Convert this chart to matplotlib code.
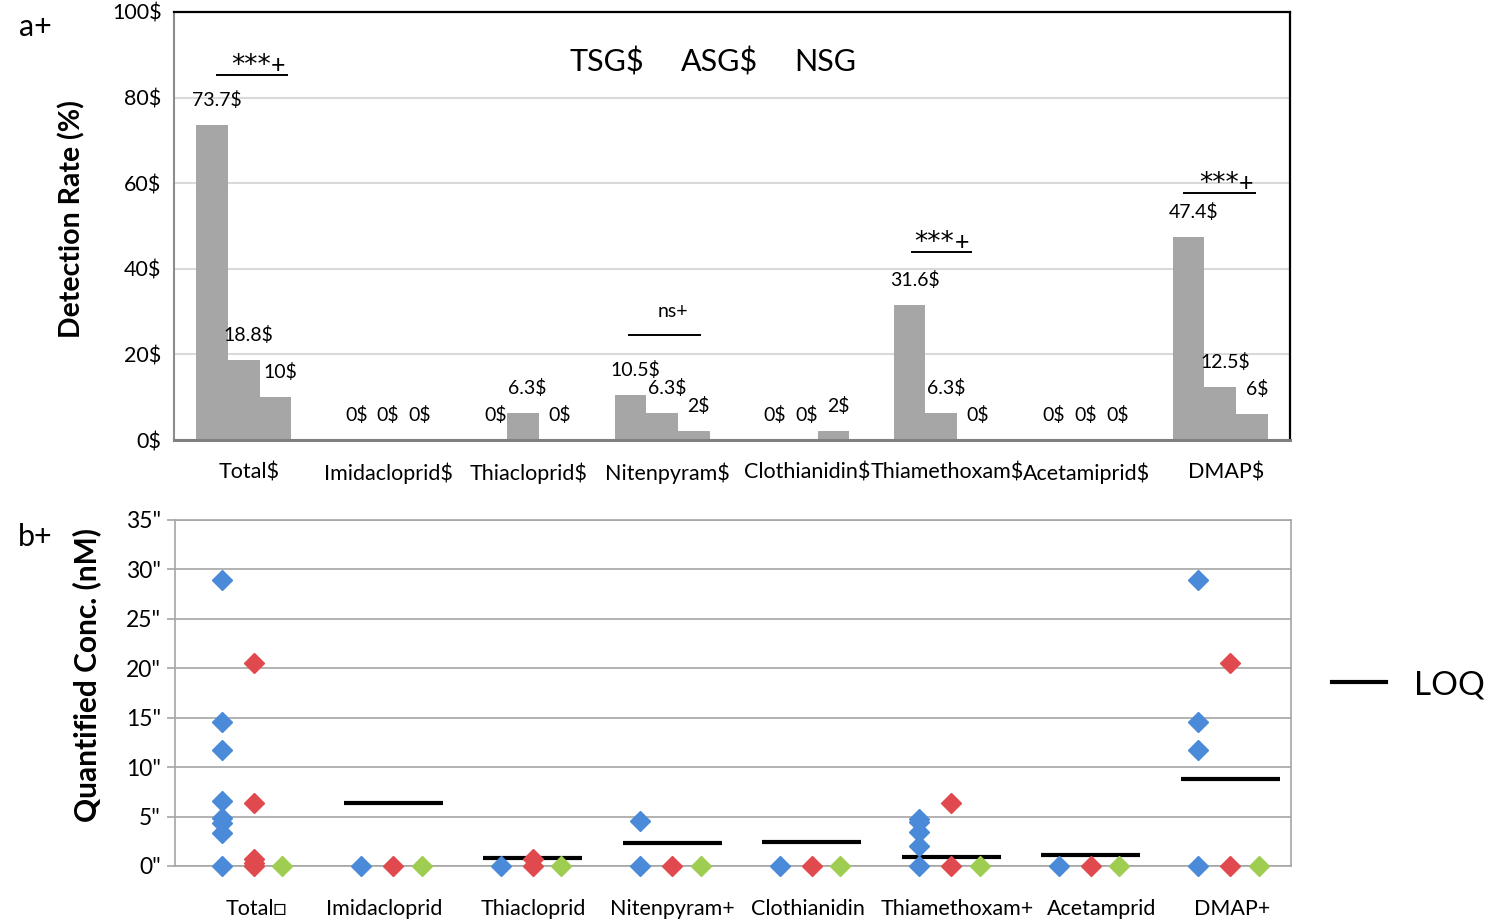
import numpy as np
import matplotlib
matplotlib.use("Agg")
import matplotlib.pyplot as plt
from matplotlib.lines import Line2D

plt.rcParams['font.family'] = ['Lato', 'DejaVu Sans']

# ---- panel a: detection rate (%) ----
cats_a = ['Total$', 'Imidacloprid$', 'Thiacloprid$', 'Nitenpyram$', 'Clothianidin$',
          'Thiamethoxam$', 'Acetamiprid$', 'DMAP$']
tsg_rate = [73.7, 0, 0, 10.5, 0, 31.6, 0, 47.4]
asg_rate = [18.8, 0, 6.3, 6.3, 0, 6.3, 0, 12.5]
nsg_rate = [10, 0, 0, 2, 2, 0, 0, 6]
groups = ['TSG$', 'ASG$', 'NSG']

# significance marks: category, label, bar height, line ends (offset from category)
sig_cat = [0, 3, 5, 7]
sig_text = ['***', 'ns+', '***', '***']
sig_y = [85.3, 24.5, 43.9, 57.7]
sig_x0 = [-0.19, -0.24, -0.21, -0.26]
sig_x1 = [0.31, 0.27, 0.21, 0.25]

# ---- panel b: quantified concentration (nM) ----
cats_b = ['Total\u25a1', 'Imidacloprid', 'Thiacloprid', 'Nitenpyram+', 'Clothianidin',
          'Thiamethoxam+', 'Acetamprid', 'DMAP+']
tsg_conc = [[28.9, 14.6, 11.7, 6.6, 4.9, 4.4, 3.3, 0], [0], [0], [4.6, 0], [0],
            [4.8, 4.5, 3.4, 2.0, 0], [0], [28.9, 14.6, 11.7, 0]]
asg_conc = [[20.5, 6.4, 0.7, 0.3, 0], [0], [0.7, 0], [0], [0], [6.4, 0], [0], [20.5, 0]]
nsg_conc = [[0], [0], [0], [0], [0], [0], [0], [0]]
loq = [np.nan, 6.4, 0.85, 2.35, 2.45, 0.95, 1.1, 8.8]

fig = plt.figure(figsize=(15.06, 9.19), dpi=100)
ax1 = fig.add_axes([174/1506, 1-440/919, 1116/1506, 428/919])
ax2 = fig.add_axes([175/1506, 1-866/919, 1116/1506, 346/919])

x = np.arange(len(cats_a))
w = 0.227
for j, vals in enumerate([tsg_rate, asg_rate, nsg_rate]):
    pos = x + (j - 1) * w
    ax1.bar(pos, vals, width=w, color='#a6a6a6', zorder=2)
    for px, v in zip(pos, vals):
        ax1.annotate(f'{v:g}$', (px, v), xytext=(3.5, 18), textcoords='offset points',
                     ha='center', va='center', fontsize=14)

for c, t, y, a, b in zip(sig_cat, sig_text, sig_y, sig_x0, sig_x1):
    ax1.plot([c + a, c + b], [y, y], color='black', lw=1.4, zorder=3)
    if t == 'ns+':
        ax1.annotate(t, ((c + a + c + b) / 2, y), xytext=(6, 13), textcoords='offset points',
                     ha='center', va='baseline', fontsize=14)
    else:
        ax1.annotate(t, (c + b, y), xytext=(-26, 1.5), textcoords='offset points',
                     ha='center', va='baseline', fontsize=19, family='DejaVu Sans')
        ax1.annotate('+', (c + b, y), xytext=(-6.5, 1.5), textcoords='offset points',
                     ha='center', va='baseline', fontsize=18)

ax1.set_xlim(-0.5, 7.5)
ax1.set_ylim(0, 100)
ax1.set_xticks(x + 0.04)
ax1.set_xticklabels(cats_a, fontsize=15.5)
ax1.set_yticks(range(0, 101, 20))
ax1.set_yticklabels([f'{v}$' for v in range(0, 101, 20)], fontsize=15.5)
ax1.tick_params(axis='both', length=0)
ax1.tick_params(axis='x', pad=16)
ax1.tick_params(axis='y', pad=9)
ax1.yaxis.grid(True, color='#d9d9d9', lw=1.5)
ax1.set_axisbelow(True)
for s in ['top', 'right']:
    ax1.spines[s].set_color('black')
    ax1.spines[s].set_linewidth(1.6)
ax1.spines['left'].set_color('#8c8c8c')
ax1.spines['left'].set_linewidth(1.5)
ax1.spines['bottom'].set_color('#808080')
ax1.spines['bottom'].set_linewidth(2.2)
ax1.spines['bottom'].set_zorder(4)
ax1.set_ylabel('Detection Rate (%)', fontsize=20.5, fontweight='bold', va='center')
ax1.yaxis.set_label_coords(-0.0914, 0.516)

for g, gx in zip(groups, [0.388, 0.489, 0.584]):
    ax1.text(gx, 0.883, g, transform=ax1.transAxes, ha='center', va='center', fontsize=22)

# ---- panel b ----
offs = [-0.165, 0.065, 0.27]
colors = ['#4a8ad8', '#e04a4f', '#9fcd52']
for j, series in enumerate([tsg_conc, asg_conc, nsg_conc]):
    for i, vals in enumerate(series):
        ax2.plot([i + offs[j]] * len(vals), vals, linestyle='none', marker='D', ms=10.5,
                 color=colors[j], mec=colors[j], clip_on=False, zorder=4)

xb = np.arange(len(cats_b))
ax2.hlines(loq, xb - 0.29, xb + 0.42, color='black', lw=3, zorder=3)

label_shift = [0.08, 0.0, 0.065, 0.065, 0.04, 0.11, 0.14, 0.08]
ax2.set_xlim(-0.5, 7.5)
ax2.set_ylim(0, 35)
ax2.set_yticks(range(0, 36, 5))
ax2.set_yticklabels([f'{v}"' for v in range(0, 36, 5)], fontsize=16.5)
ax2.set_xticks(xb + np.array(label_shift))
ax2.set_xticklabels(cats_b, fontsize=15.5)
ax2.tick_params(axis='x', length=0, pad=24)
ax2.tick_params(axis='y', length=6, color='#a6a6a6', width=1.2, pad=4)
ax2.yaxis.grid(True, color='#a6a6a6', lw=1.2)
ax2.set_axisbelow(True)
for s in ax2.spines.values():
    s.set_color('#a6a6a6')
    s.set_linewidth(1.2)
ax2.set_ylabel('Quantified Conc. (nM)', fontsize=21.5, fontweight='bold', va='center')
ax2.yaxis.set_label_coords(-0.0789, 0.552)

ax2.legend(handles=[Line2D([], [], color='black', lw=3)], labels=['LOQ'],
           loc='center left', bbox_to_anchor=(1.0367, 0.523), frameon=False,
           fontsize=24, handlelength=1.62, handletextpad=0.84, borderpad=0, borderaxespad=0)

fig.text(35/1506, 1-27/919, 'a+', ha='center', va='center', fontsize=22)
fig.text(35/1506, 1-537/919, 'b+', ha='center', va='center', fontsize=22)

fig.savefig('out.png', dpi=100)
